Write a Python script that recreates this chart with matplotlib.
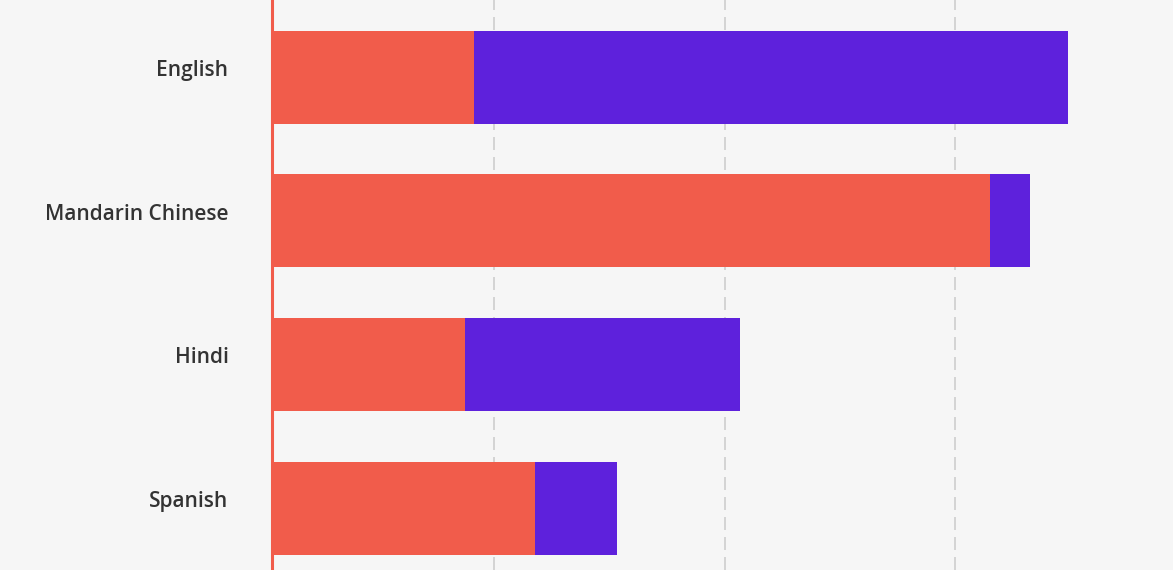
import matplotlib.pyplot as plt
from matplotlib.transforms import ScaledTranslation

# languages, top to bottom
languages = ['English', 'Mandarin Chinese', 'Hindi', 'Spanish']
native = [220, 780, 210, 286]
non_native = [645, 44, 299, 89]
grid_values = [242, 493, 742]

red = '#f15c4b'
purple = '#5e21dc'
bg = '#f6f6f6'

plt.rcParams['font.family'] = ['Open Sans', 'DejaVu Sans']

fig = plt.figure(figsize=(11.73, 5.70), dpi=100, facecolor=bg)
left = 271.5 / 1173
ax = fig.add_axes([left, 0, 1 - left, 1], facecolor=bg)

y = range(len(languages))
ax.barh(y, native, height=0.648, color=red, zorder=3)
ax.barh(y, non_native, left=native, height=0.648, color=purple, zorder=3)

ax.set_xlim(0, 979)
ax.set_ylim(3.431, -0.538)

ax.set_xticks(grid_values)
ax.set_xticklabels([])
ax.tick_params(axis='x', length=0)
ax.grid(axis='x', color='#d4d4d4', linewidth=1.44, linestyle=(0, (6.5, 3.5)), zorder=1)

ax.set_yticks(list(y))
ax.set_yticklabels(languages, fontsize=15.0, color='#333333', fontweight='semibold')
ax.tick_params(axis='y', length=0, pad=31)
shift = ScaledTranslation(0, 0.09, fig.dpi_scale_trans)
for lab in ax.get_yticklabels():
    lab.set_transform(lab.get_transform() + shift)

for s in ['top', 'right', 'bottom']:
    ax.spines[s].set_visible(False)
ax.spines['left'].set_color(red)
ax.spines['left'].set_linewidth(2.2)
ax.spines['left'].set_zorder(4)

fig.savefig('out.png', dpi=100, facecolor=bg)
